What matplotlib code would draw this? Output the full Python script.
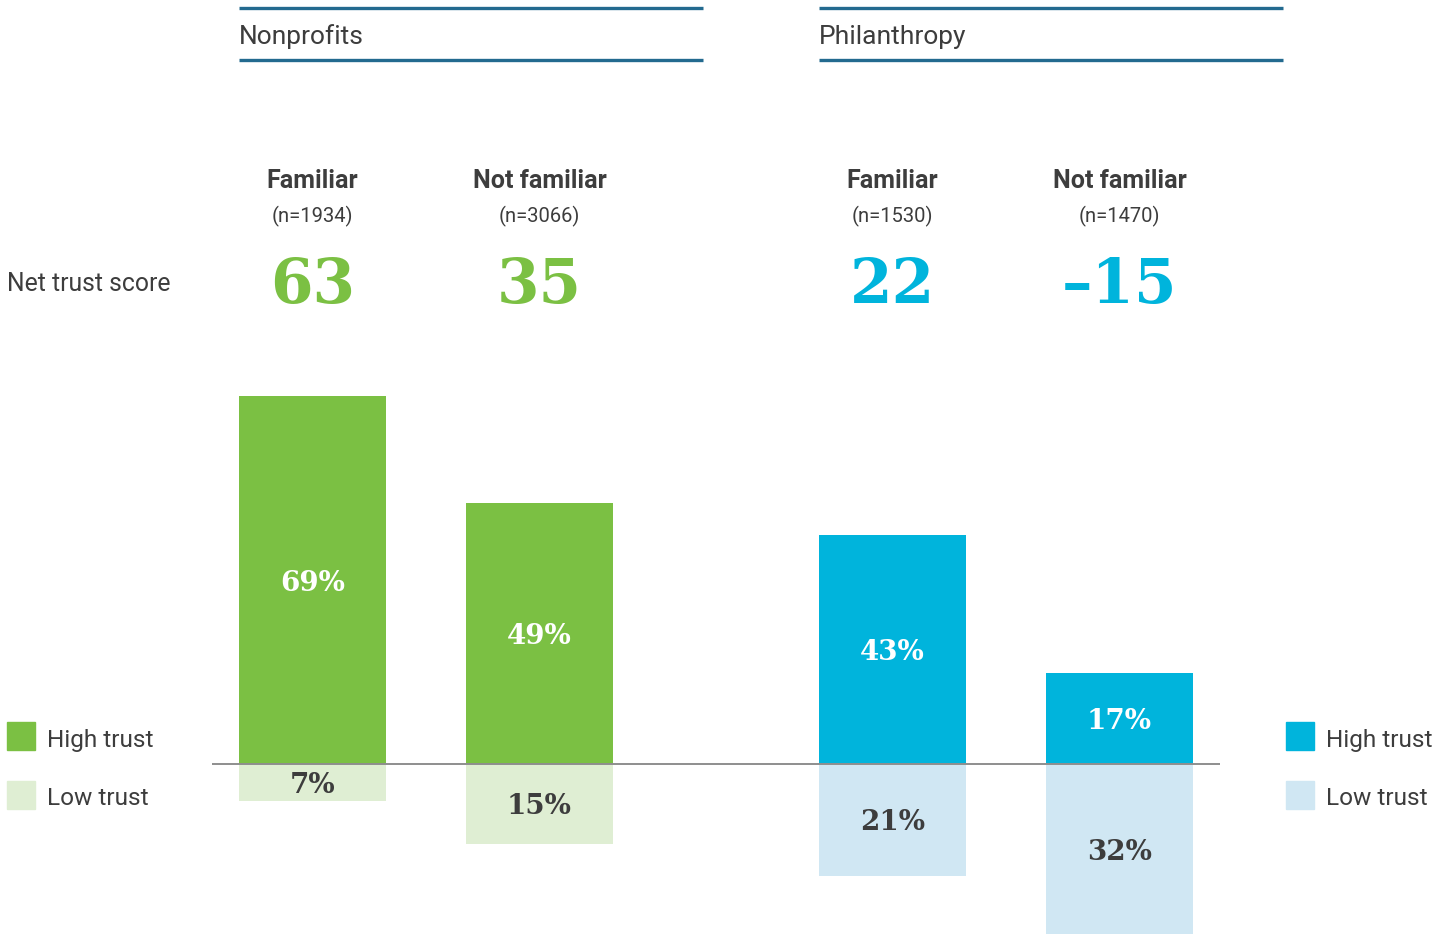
import matplotlib
matplotlib.use("Agg")
import matplotlib.pyplot as plt
from matplotlib.patches import Rectangle

# ---- data ----
groups = ["Nonprofits", "Philanthropy"]
categories = ["Familiar", "Not familiar", "Familiar", "Not familiar"]
sample_sizes = ["(n=1934)", "(n=3066)", "(n=1530)", "(n=1470)"]
net_scores = [63, 35, 22, -15]
high_trust = [69, 49, 43, 17]
low_trust = [7, 15, 21, 32]

# ---- style ----
GREEN = "#7bc043"
GREEN_LIGHT = "#dfeed3"
BLUE = "#00b4dc"
BLUE_LIGHT = "#d0e7f3"
TEXT = "#3d3d3d"
HEAD_LINE = "#236a8f"
high_colors = [GREEN, GREEN, BLUE, BLUE]
low_colors = [GREEN_LIGHT, GREEN_LIGHT, BLUE_LIGHT, BLUE_LIGHT]

W, H = 1452, 934
fig = plt.figure(figsize=(W / 100, H / 100), dpi=100)

# bar axes: x in pixel layout units, y in percent
ax = fig.add_axes([0, 0, 1, 1])
ax.set_xlim(0, W)
px_per_pct = 5.33
base_px = 764
ax.set_ylim(-(H - base_px) / px_per_pct, base_px / px_per_pct)
ax.axis("off")

x_centers = [312.5, 539.5, 892.5, 1119.5]
bar_w = 147

ax.bar(x_centers, high_trust, width=bar_w, color=high_colors, zorder=2)
ax.bar(x_centers, [-v for v in low_trust], width=bar_w, color=low_colors, zorder=2)
ax.hlines(0, 212, 1220, color="#8e8e8e", lw=1.4, zorder=3)

serif = "DejaVu Serif"
for x, h, l in zip(x_centers, high_trust, low_trust):
    ax.text(x, h / 2, f"{h}%", ha="center", va="center_baseline", color="white",
            fontsize=20, fontweight="bold", family=serif, zorder=4)
    ax.text(x, -l / 2, f"{l}%", ha="center", va="center_baseline", color=TEXT,
            fontsize=20, fontweight="bold", family=serif, zorder=4)

# text overlay axes in pixel coordinates (y down)
tx = fig.add_axes([0, 0, 1, 1], facecolor="none")
tx.set_xlim(0, W)
tx.set_ylim(H, 0)
tx.axis("off")

sans = "Roboto"
# group headers
group_x = [(239, 703), (819, 1283)]
for name, (x0, x1) in zip(groups, group_x):
    tx.plot([x0, x1], [8, 8], color=HEAD_LINE, lw=2.4, solid_capstyle="butt")
    tx.plot([x0, x1], [60, 60], color=HEAD_LINE, lw=2.4, solid_capstyle="butt")
    tx.text(x0, 44, name, ha="left", va="baseline", color=TEXT,
            fontsize=19, family=sans)

net_colors = [GREEN, GREEN, BLUE, BLUE]
for x, cat, n, s, c in zip(x_centers, categories, sample_sizes, net_scores, net_colors):
    tx.text(x, 188, cat, ha="center", va="baseline", color=TEXT,
            fontsize=18, fontweight="bold", family=sans)
    tx.text(x, 222, n, ha="center", va="baseline", color=TEXT,
            fontsize=14.5, family=sans)
    tx.text(x, 303, f"{s}".replace("-", "\u2013"), ha="center", va="baseline", color=c,
            fontsize=44, fontweight="bold", family=serif)

tx.text(7, 291, "Net trust score", ha="left", va="baseline", color=TEXT,
        fontsize=17.8, family=sans)

# legends
legend_sets = [(7, GREEN, GREEN_LIGHT), (1286, BLUE, BLUE_LIGHT)]
for lx, hc, lc in legend_sets:
    tx.add_patch(Rectangle((lx, 722), 28, 28, color=hc))
    tx.add_patch(Rectangle((lx, 781), 28, 28, color=lc))
    tx.text(lx + 40, 747, "High trust", ha="left", va="baseline", color=TEXT,
            fontsize=17.6, family=sans)
    tx.text(lx + 40, 805, "Low trust", ha="left", va="baseline", color=TEXT,
            fontsize=17.6, family=sans)

fig.savefig("out.png", dpi=100, facecolor="white")
